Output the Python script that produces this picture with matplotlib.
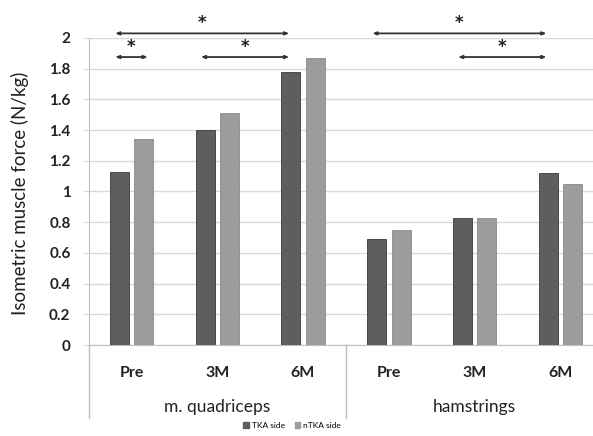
import numpy as np
import matplotlib.pyplot as plt
from matplotlib.patches import Patch

# data
groups = ['m. quadriceps', 'hamstrings']
timepoints = ['Pre', '3M', '6M', 'Pre', '3M', '6M']
tka = [1.13, 1.40, 1.78, 0.69, 0.83, 1.12]
ntka = [1.34, 1.51, 1.87, 0.75, 0.83, 1.05]
yticks = [0, 0.2, 0.4, 0.6, 0.8, 1, 1.2, 1.4, 1.6, 1.8, 2]
ytick_labels = ['0', '0.2', '0.4', '0.6', '0.8', '1', '1.2', '1.4', '1.6', '1.8', '2']
# significance comparisons: (category from, category to, bracket level)
comparisons = [(0, 2, 2), (0, 0, 1), (1, 2, 1), (3, 5, 2), (4, 5, 1)]

plt.rcParams['font.family'] = ['Lato', 'DejaVu Sans']

dark = '#5e5e5e'
light = '#9c9c9c'
grid_c = '#d9d9d9'

fig = plt.figure(figsize=(5.93, 4.36), dpi=100)
ax = fig.add_axes([88.6 / 593, 91 / 436, (603 - 88.6) / 593, 307 / 436])

x = np.arange(len(timepoints))
w = 0.22
off_t, off_n = -0.14, 0.145
ax.bar(x + off_t, tka, w, color=dark, edgecolor='#3a3a3a', linewidth=0.6, zorder=3, label='TKA side')
ax.bar(x + off_n, ntka, w, color=light, edgecolor='#8a8a8a', linewidth=0.6, zorder=3, label='nTKA side')

ax.set_xlim(-0.5, len(timepoints) - 0.5)
ax.set_ylim(0, 2)
ax.set_yticks(yticks)
ax.set_yticklabels(ytick_labels, fontsize=11, fontweight='bold', color='#222222')
ax.yaxis.grid(True, color=grid_c, linewidth=1.0, zorder=0)
ax.tick_params(axis='y', length=4, color=grid_c, pad=9)
ax.set_xticks(x)
ax.set_xticklabels(timepoints, fontsize=11.5, fontweight='bold', color='#222222')
ax.tick_params(axis='x', length=0, pad=15)

for s in ['top', 'right']:
    ax.spines[s].set_visible(False)
for s in ['left', 'bottom']:
    ax.spines[s].set_color('#bfbfbf')

# group separators and labels below the axis
tr = ax.get_xaxis_transform()
for xs in [-0.5, 2.5, 5.5]:
    ax.plot([xs, xs], [0, -0.238], color='#bfbfbf', linewidth=1.0, transform=tr, clip_on=False)
for i, g in enumerate(groups):
    ax.text(1 + 3 * i, -0.203, g, transform=tr, ha='center', va='center', fontsize=12.5, color='#222222')

fig.text(20 / 593, 1 - 193 / 436, 'Isometric muscle force (N/kg)', rotation=90,
         ha='center', va='center', fontsize=13.5, color='#222222')

# significance brackets
levels = {1: 1.876, 2: 2.03}
for a, b, lev in comparisons:
    if a == b:
        x1, x2 = a - 0.19, b + 0.19
    else:
        x1, x2 = a + off_t - 0.05, b + off_t - 0.02
    y = levels[lev]
    ax.annotate('', xy=(x1, y), xytext=(x2, y), annotation_clip=False,
                arrowprops=dict(arrowstyle='<|-|>,head_length=0.22,head_width=0.09',
                                color='#333333', linewidth=1.3, shrinkA=0, shrinkB=0))
    ax.text((x1 + x2) / 2, y + 0.065, '*', ha='center', va='center', fontsize=12,
            fontweight='bold', family='DejaVu Sans', color='#222222', clip_on=False)

handles = [Patch(color=dark, label='TKA side'), Patch(color=light, label='nTKA side')]
fig.legend(handles=handles, loc='center', bbox_to_anchor=(292 / 593, 1 - 425 / 436), ncol=2,
           frameon=False, fontsize=6, handlelength=0.7, handleheight=0.7, handletextpad=0.3,
           columnspacing=1.2)

fig.savefig('out.png', dpi=100)
